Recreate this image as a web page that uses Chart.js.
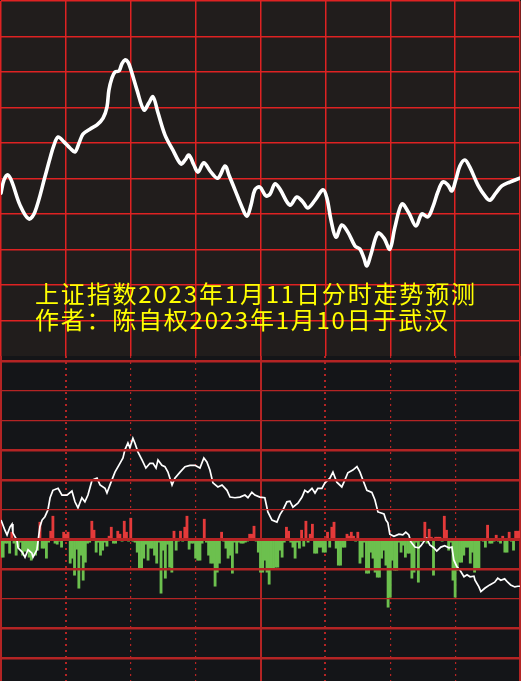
<!DOCTYPE html>
<html>
<head>
<meta charset="utf-8">
<script src="https://cdn.jsdelivr.net/npm/chart.js@4.4.1/dist/chart.umd.min.js"></script>
<style>
  html, body { margin: 0; padding: 0; background: #000; }
  #wrap { width: 521px; height: 681px; position: relative; overflow: hidden; }
  canvas { display: block; }
  #top { background: #211d1c; }
  #bottom { background: #141518; }
</style>
</head>
<body>
<div id="wrap">
  <canvas id="top" width="521" height="356"></canvas>
  <canvas id="bottom" width="521" height="325"></canvas>
</div>
<script>
// ---------------- DATA ----------------
// Forecast curve (top panel): trading minute (0..240) and relative level (0..100)
const forecastMinutes = [0,1.4,3.2,5.1,8.8,12.9,15.7,20.3,22.7,24.5,26.4,29.1,31.9,34.2,36.1,37.9,41.1,44.4,47.2,49.0,49.9,51.3,52.7,54.6,55.9,57.3,58.7,60.1,62.9,66.1,68.4,70.3,72.6,75.8,79.5,83.2,85.1,86.9,89.2,91.1,93.8,97.1,100.3,103.6,105.4,108.2,111.4,113.7,115.6,117.4,119.7,122.5,124.4,126.7,129.0,133.6,136.8,139.6,141.9,145.2,148.9,150.7,152.6,154.9,157.6,160.4,163.7,166.0,167.8,169.2,171.0,174.3,177.1,179.8,182.1,185.4,188.6,191.9,194.6,197.4,199.7,202.0,204.3,206.6,208.5,210.3,212.2,214.5,216.8,220.5,223.8,226.1,228.8,231.6,235.3,239.9];
const forecastLevel = [45.9,49.6,51.0,49.0,42.5,38.6,40.6,50.4,55.8,59.4,61.7,60.3,58.6,57.5,60.0,62.5,63.9,65.1,67.0,70.1,74.9,78.3,80.0,80.3,82.3,83.4,82.8,80.6,74.9,69.3,71.3,73.0,68.5,62.3,58.0,54.1,55.2,56.6,53.8,51.8,54.4,51.8,50.1,53.5,51.0,46.8,42.0,39.4,42.5,46.8,47.6,45.1,45.6,48.5,47.0,42.5,44.8,43.4,41.7,43.9,46.8,44.5,38.3,33.5,36.9,34.9,31.0,30.1,27.6,25.4,28.5,34.6,33.2,30.1,36.1,42.8,40.3,36.6,40.0,39.2,42.0,46.2,49.0,48.2,46.5,49.6,53.5,55.2,53.2,48.2,45.1,43.9,45.9,47.9,49.0,50.1];

// Actual intraday index (bottom panel): trading minute and index value
const actualMinutes = [0,0.5,1.8,2.8,4.2,5.1,5.5,7.4,7.9,9.7,11.1,12.5,14.3,14.8,16.6,18.0,19.0,20.3,21.7,22.7,24.0,26.4,28.2,30.5,32.8,34.2,35.6,37.4,38.8,40.2,42.1,44.4,45.8,48.1,49.0,50.4,52.7,55.0,56.4,57.3,58.7,59.6,61.0,61.9,63.3,65.2,67.0,68.9,70.3,71.7,72.6,74.4,75.8,77.2,79.1,80.4,82.8,85.1,87.4,89.7,92.0,93.8,95.2,96.6,98.0,100.3,102.2,104.5,105.9,108.2,110.5,112.8,114.2,116.0,117.4,119.7,122.0,123.4,125.3,127.6,129.0,130.4,132.2,133.6,135.0,137.3,139.2,140.5,141.9,143.8,145.2,146.5,148.4,149.8,152.1,153.5,155.3,157.6,159.0,160.4,162.7,164.6,166.0,167.4,169.2,171.5,172.9,174.3,177.1,178.0,178.9,179.8,181.7,184.0,185.8,187.2,188.6,189.5,191.4,193.2,194.2,195.5,196.9,198.3,200.1,201.5,203.4,205.2,207.1,208.5,209.4,210.8,212.2,214.1,215.5,216.9,218.7,219.2,221.0,221.9,223.7,226.0,228.3,229.7,231.1,232.9,234.3,235.7,237.6,239.0,240.0];
const actualIndex = [3168.9,3168.5,3167.4,3166.7,3167.9,3168.3,3167.0,3165.9,3164.8,3164.2,3163.4,3164.5,3164.0,3163.4,3164.5,3167.9,3168.9,3169.4,3170.4,3172.2,3173.3,3173.6,3172.6,3172.6,3173.2,3171.6,3170.7,3172.2,3171.6,3172.6,3174.8,3175.1,3174.1,3173.6,3172.9,3174.1,3176.0,3177.3,3178.1,3179.3,3180.3,3179.6,3181.0,3180.3,3179.0,3177.8,3176.6,3177.3,3177.3,3176.6,3177.8,3177.0,3176.8,3176.0,3174.1,3175.1,3176.0,3176.8,3177.0,3177.0,3176.6,3178.1,3177.5,3176.3,3174.4,3173.8,3174.1,3173.3,3172.3,3172.2,3172.3,3172.6,3172.2,3173.0,3172.6,3172.3,3172.2,3170.1,3168.9,3168.6,3169.7,3170.4,3171.6,3171.7,3170.8,3171.4,3172.3,3173.3,3173.0,3173.6,3172.9,3173.6,3173.6,3174.4,3175.1,3176.0,3174.5,3173.8,3174.8,3175.9,3176.3,3176.8,3176.0,3174.8,3173.3,3173.0,3171.9,3170.1,3169.8,3168.9,3168.5,3166.8,3166.5,3166.8,3166.7,3167.1,3166.7,3165.7,3164.9,3164.8,3165.1,3165.7,3166.2,3165.2,3164.8,3164.3,3164.9,3165.1,3164.8,3164.9,3163.0,3162.0,3161.5,3160.5,3160.8,3160.5,3160.6,3160.0,3159.0,3158.3,3158.8,3159.3,3159.7,3160.3,3160.0,3160.2,3159.7,3159.3,3159.0,3159.1,3159.1];

// Per-minute red/green bars (positive = red, negative = green), one per minute 0..240
const minuteBars = [-18,-18,-4,-4,-14,7,-4,-16,-8,-3,-16,-12,-12,-18,-21,-16,-16,-11,17,-9,
  -9,-19,-3,8,23,-4,-5,-2,-8,7,5,7,-24,-19,-36,-10,-49,-16,-41,-23,
  -4,-3,18,9,-13,-3,-16,-11,-3,-7,3,12,-4,-4,8,5,-2,18,7,-2,
  21,-2,-3,-13,-29,-29,-19,-5,-21,-9,-9,-16,-24,-3,-54,-11,-39,-5,-28,-33,
  8,-11,-2,8,-2,12,23,-10,-4,-4,-19,-21,-21,-4,20,-3,-16,-24,-24,-47,
  -33,-24,7,-2,-9,-19,-16,-34,-3,-14,-3,-4,-4,-3,-2,5,5,13,-2,-13,
  -33,-33,-21,-33,-45,-29,-29,-28,-28,-11,-18,-3,12,8,-3,-8,-19,-3,-9,9,
  -7,18,-3,5,15,-14,-14,-8,-8,-13,-13,7,-8,12,17,-9,-26,-26,-8,-8,
  5,3,7,3,-2,7,-24,-18,-3,-34,-34,-13,-19,-33,-38,-38,-19,-11,-26,-68,
  -58,-21,-31,-31,-3,-13,-6,-18,-14,-14,-39,-33,-3,-43,-2,-2,17,-4,10,2,
  -36,2,2,2,-2,23,9,-11,-3,-41,-58,-31,-23,-23,-16,-8,-8,-24,-13,-33,
  -29,-29,-1,-2,-8,14,-4,-4,-2,4,-2,-4,3,-13,-13,7,-2,-11,8,8,8];

// Chart titles (yellow text)
const titleLines = ['上证指数2023年1月11日分时走势预测', '作者：陈自权2023年1月10日于武汉'];

// ---------------- STYLE / LAYOUT ----------------
const TOP_GRID = 'rgb(222,34,34)';
const BOT_GRID = 'rgb(180,36,36)';
const RED_BAR = 'rgb(228,58,58)';
const GREEN_BAR = 'rgb(108,192,78)';

function ticksAt(vals) { return a => { a.ticks = vals.map(v => ({ value: v })); }; }
const noTicks = { display: false };

// ---- Top chart ----
const titlePlugin = {
  id: 'titles',
  afterDraw(chart) {
    const ctx = chart.ctx;
    ctx.save();
    ctx.fillStyle = '#ffff00';
    ctx.font = '24px "Noto Sans CJK SC"';
    ctx.textBaseline = 'middle';
    const specs = [{ x: 35, y: 294, w: 440 }, { x: 35, y: 320, w: 413 }];
    titleLines.forEach((line, li) => {
      const chars = Array.from(line);
      const widths = chars.map(c => ctx.measureText(c).width);
      const total = widths.reduce((a, b) => a + b, 0);
      const gap = (specs[li].w - total) / (chars.length - 1);
      let x = specs[li].x;
      chars.forEach((c, i) => { ctx.fillText(c, x, specs[li].y); x += widths[i] + gap; });
    });
    ctx.restore();
  }
};

new Chart(document.getElementById('top'), {
  type: 'line',
  data: {
    datasets: [{
      data: forecastMinutes.map((m, i) => ({ x: m, y: forecastLevel[i] })),
      borderColor: '#ffffff', borderWidth: 3.6, pointRadius: 0, tension: 0.35,
      borderJoinStyle: 'round', borderCapStyle: 'round', fill: false
    }]
  },
  options: {
    responsive: false, animation: false, devicePixelRatio: 1,
    layout: { padding: { left: 1, right: 1, top: 1, bottom: 0 } },
    plugins: { legend: { display: false }, tooltip: { enabled: false } },
    scales: {
      x: { type: 'linear', min: 0, max: 240, afterBuildTicks: ticksAt([0,30,60,90,120,150,180,210,240]),
           ticks: noTicks, grid: { color: TOP_GRID, lineWidth: 1.5, drawTicks: false }, border: { display: false } },
      y: { type: 'linear', min: 0, max: 100, afterBuildTicks: ticksAt([10,20,30,40,50,60,70,80,90,100]),
           ticks: noTicks, grid: { color: TOP_GRID, lineWidth: 1.5, drawTicks: false }, border: { display: false } }
    }
  },
  plugins: [titlePlugin]
});

// ---- Bottom chart ----
const G = 29.7;           // bar-axis units per grid row
const ZERO_FROM_TOP = 183.2;
const BAR_MAX = ZERO_FROM_TOP, BAR_MIN = ZERO_FROM_TOP - 325;
const gridRows = [-4,-3,-2,-1,0,1,2,3,4,5,6].map(k => k * G);
const thinRows = new Set([5, 4, 1, -2].map(k => +(k * G).toFixed(3)));
const PRICE_REF = 3169.5, PRICE_PER_PX = 0.148, REF_FROM_TOP = 160;

new Chart(document.getElementById('bottom'), {
  type: 'bar',
  data: {
    datasets: [
      {
        type: 'line', order: 0, yAxisID: 'yp', xAxisID: 'x',
        data: actualMinutes.map((m, i) => ({ x: m, y: actualIndex[i] })),
        borderColor: '#ffffff', borderWidth: 1.7, pointRadius: 0, tension: 0, fill: false
      },
      {
        type: 'bar', order: 1, yAxisID: 'yb', xAxisID: 'x',
        data: minuteBars.map((v, i) => ({ x: i, y: v })),
        backgroundColor: c => (c.raw && c.raw.y >= 0 ? RED_BAR : GREEN_BAR),
        barPercentage: 1, categoryPercentage: 1, borderWidth: 0
      }
    ]
  },
  options: {
    responsive: false, animation: false, devicePixelRatio: 1,
    layout: { padding: { left: 1, right: 1, top: 0, bottom: 0 } },
    plugins: { legend: { display: false }, tooltip: { enabled: false } },
    scales: {
      x: { type: 'linear', min: 0, max: 240, offset: false, afterBuildTicks: ticksAt([0,120,240]),
           ticks: noTicks, grid: { color: BOT_GRID, lineWidth: 2, drawTicks: false, offset: false }, border: { display: false } },
      x2: { type: 'linear', min: 0, max: 240, offset: false, position: 'bottom', afterBuildTicks: ticksAt([30,60,90,150,180,210]),
            ticks: noTicks,
            grid: { color: BOT_GRID, offset: false, drawTicks: false,
                    lineWidth: c => ([30,150].includes(c.tick && c.tick.value) ? 2 : 1.2) },
            border: { display: false, dash: [2, 4] } },
      yb: { type: 'linear', min: BAR_MIN, max: BAR_MAX, position: 'left', afterBuildTicks: ticksAt(gridRows),
            ticks: noTicks, border: { display: false },
            grid: { color: BOT_GRID, drawTicks: false, z: 1,
                    lineWidth: c => { const v = c.tick ? +c.tick.value.toFixed(3) : 0; if (v === 0) return 3; return thinRows.has(v) ? 1.2 : 2.5; } } },
      yp: { type: 'linear', display: false,
            min: PRICE_REF - (325 - REF_FROM_TOP) * PRICE_PER_PX, max: PRICE_REF + REF_FROM_TOP * PRICE_PER_PX }
    }
  }
});
</script>
</body>
</html>
